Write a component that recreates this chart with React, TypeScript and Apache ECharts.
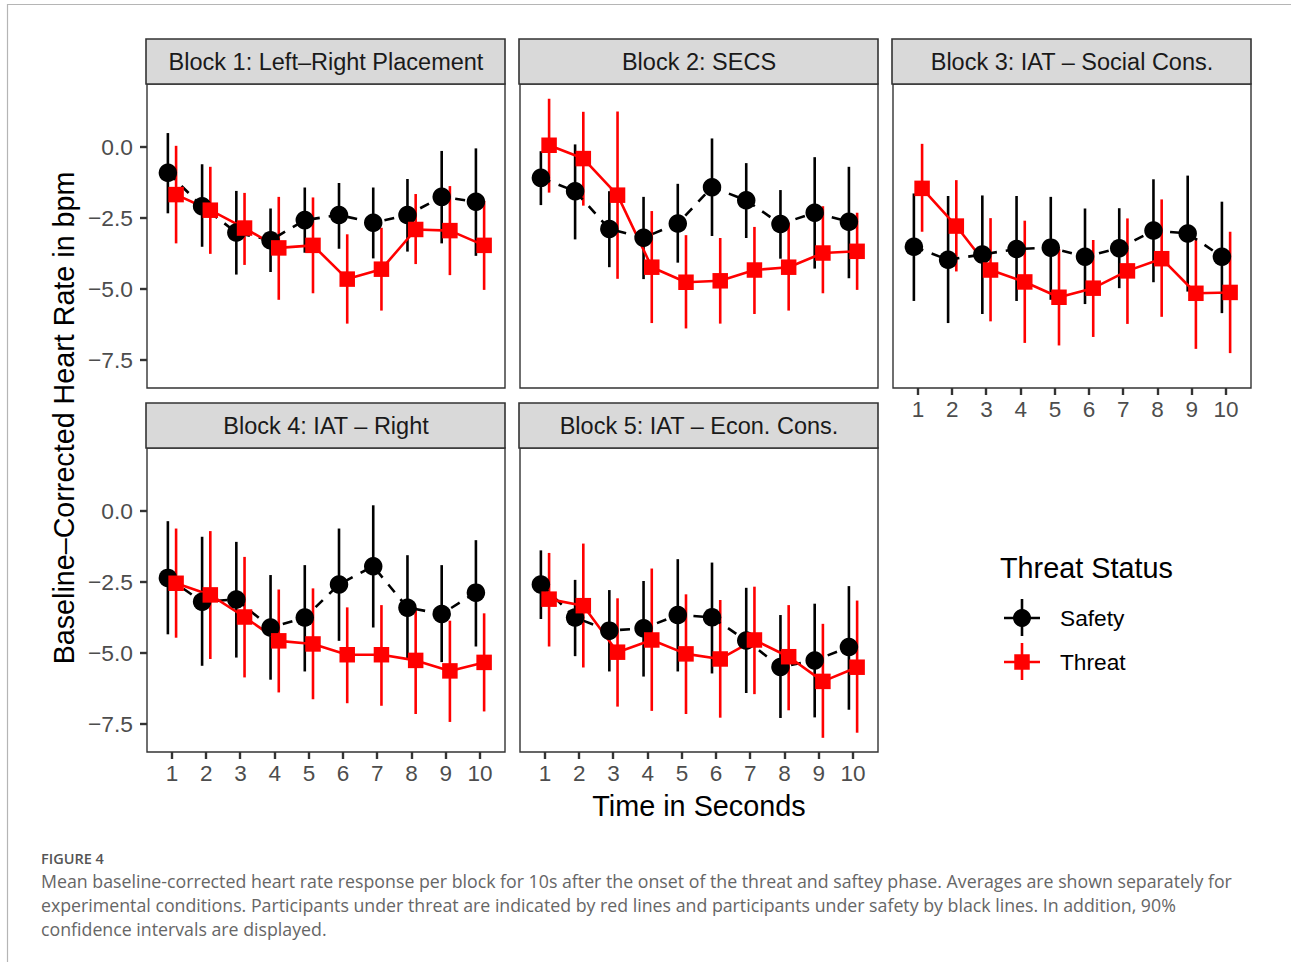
import React, { useEffect, useRef } from "react";
import * as echarts from "echarts";

const seconds = [1, 2, 3, 4, 5, 6, 7, 8, 9, 10];
const blockTitles = [
  "Block 1: Left–Right Placement",
  "Block 2: SECS",
  "Block 3: IAT – Social Cons.",
  "Block 4: IAT – Right",
  "Block 5: IAT – Econ. Cons.",
];
const yTicks = [0, -2.5, -5, -7.5];
const groups = ["Safety", "Threat"];

// Block 1
const b1SafetyMean = [-0.91, -2.09, -3.02, -3.29, -2.58, -2.4, -2.67, -2.4, -1.76, -1.93];
const b1SafetyLo = [-2.34, -3.52, -4.5, -4.41, -3.73, -3.59, -3.93, -3.69, -3.4, -3.84];
const b1SafetyHi = [0.49, -0.61, -1.55, -2.17, -1.43, -1.27, -1.43, -1.13, -0.14, -0.05];
const b1ThreatMean = [-1.68, -2.23, -2.86, -3.56, -3.47, -4.66, -4.31, -2.91, -2.95, -3.47];
const b1ThreatLo = [-3.4, -3.77, -4.16, -5.39, -5.16, -6.23, -5.77, -4.13, -4.52, -5.04];
const b1ThreatHi = [0.04, -0.7, -1.62, -1.76, -1.78, -3.08, -2.85, -1.66, -1.38, -1.9];

// Block 2
const b2SafetyMean = [-1.09, -1.56, -2.89, -3.2, -2.7, -1.42, -1.88, -2.72, -2.32, -2.64];
const b2SafetyLo = [-2.05, -3.26, -4.24, -4.66, -4.08, -3.14, -3.21, -3.94, -4.29, -4.63];
const b2SafetyHi = [-0.15, 0.09, -1.56, -1.76, -1.3, 0.3, -0.57, -1.52, -0.36, -0.7];
const b2ThreatMean = [0.06, -0.41, -1.7, -4.24, -4.77, -4.72, -4.34, -4.24, -3.74, -3.68];
const b2ThreatLo = [-1.61, -2.07, -4.65, -6.21, -6.4, -6.23, -5.89, -5.77, -5.16, -5.04];
const b2ThreatHi = [1.7, 1.24, 1.25, -2.26, -3.11, -3.21, -2.82, -2.67, -2.09, -2.32];

// Block 3
const b3SafetyMean = [-3.52, -3.98, -3.79, -3.6, -3.55, -3.87, -3.57, -2.95, -3.05, -3.87];
const b3SafetyLo = [-5.43, -6.21, -5.89, -5.43, -5.39, -5.54, -4.98, -4.77, -5.1, -5.86];
const b3SafetyHi = [-1.64, -1.73, -1.71, -1.73, -1.76, -2.17, -2.16, -1.14, -1.01, -1.93];
const b3ThreatMean = [-1.46, -2.79, -4.34, -4.76, -5.3, -4.98, -4.37, -3.94, -5.16, -5.13];
const b3ThreatLo = [-2.99, -4.39, -6.15, -6.91, -7.0, -6.7, -6.24, -5.99, -7.12, -7.27];
const b3ThreatHi = [0.11, -1.17, -2.51, -2.6, -3.6, -3.28, -2.52, -1.85, -3.22, -2.99];

// Block 4
const b4SafetyMean = [-2.36, -3.2, -3.12, -4.11, -3.76, -2.59, -1.95, -3.41, -3.63, -2.88];
const b4SafetyLo = [-4.35, -5.46, -5.17, -5.95, -5.66, -4.58, -4.11, -5.22, -5.33, -4.78];
const b4SafetyHi = [-0.36, -0.91, -1.09, -2.26, -1.91, -0.62, 0.2, -1.56, -1.91, -1.03];
const b4ThreatMean = [-2.55, -2.96, -3.74, -4.58, -4.69, -5.07, -5.07, -5.27, -5.64, -5.34];
const b4ThreatLo = [-4.47, -5.22, -5.87, -6.4, -6.64, -6.78, -6.87, -7.16, -7.44, -7.07];
const b4ThreatHi = [-0.62, -0.71, -1.62, -2.77, -2.73, -3.4, -3.32, -3.41, -3.87, -3.61];

// Block 5
const b5SafetyMean = [-2.59, -3.76, -4.22, -4.14, -3.67, -3.75, -4.57, -5.5, -5.27, -4.8];
const b5SafetyLo = [-3.81, -5.12, -5.66, -5.84, -5.66, -5.73, -6.42, -7.3, -7.28, -7.01];
const b5SafetyHi = [-1.39, -2.43, -2.79, -2.47, -1.7, -1.82, -2.71, -3.67, -3.27, -2.65];
const b5ThreatMean = [-3.11, -3.34, -4.98, -4.55, -5.04, -5.22, -4.55, -5.14, -6.01, -5.51];
const b5ThreatLo = [-4.78, -5.52, -6.9, -7.05, -7.16, -7.29, -6.46, -7.03, -8.0, -7.82];
const b5ThreatHi = [-1.48, -1.15, -3.08, -2.03, -2.94, -3.14, -2.67, -3.32, -3.98, -3.16];

const captionTitle = "FIGURE 4";
const captionLines = [
  "Mean baseline-corrected heart rate response per block for 10s after the onset of the threat and saftey phase. Averages are shown separately for",
  "experimental conditions. Participants under threat are indicated by red lines and participants under safety by black lines. In addition, 90%",
  "confidence intervals are displayed.",
];

const blocks = [
  { s: [b1SafetyMean, b1SafetyLo, b1SafetyHi], t: [b1ThreatMean, b1ThreatLo, b1ThreatHi] },
  { s: [b2SafetyMean, b2SafetyLo, b2SafetyHi], t: [b2ThreatMean, b2ThreatLo, b2ThreatHi] },
  { s: [b3SafetyMean, b3SafetyLo, b3SafetyHi], t: [b3ThreatMean, b3ThreatLo, b3ThreatHi] },
  { s: [b4SafetyMean, b4SafetyLo, b4SafetyHi], t: [b4ThreatMean, b4ThreatLo, b4ThreatHi] },
  { s: [b5SafetyMean, b5SafetyLo, b5SafetyHi], t: [b5ThreatMean, b5ThreatLo, b5ThreatHi] },
];

const FONT = "'Liberation Sans', Arial, Helvetica, sans-serif";
const CAPFONT = "'Open Sans', sans-serif";
const PW = 358;
const PH = 304;
const XMIN = 0.27;
const XMAX = 10.73;
const YMIN = -8.5;
const YMAX = 2.22;
const panels = [
  { left: 147, top: 84, yl: true, xl: false },
  { left: 520, top: 84, yl: false, xl: false },
  { left: 893, top: 84, yl: false, xl: true },
  { left: 147, top: 448, yl: true, xl: true },
  { left: 520, top: 448, yl: false, xl: true },
];
const DODGE = 0.12;
const RED = "#ff0000";
const BLACK = "#000000";
const AX = "#333333";

function fmtY(v: number) {
  if (Math.abs(v) < 1e-9) return "0.0";
  return (v < 0 ? "\u2212" : "") + Math.abs(v).toFixed(1);
}

export default function App() {
  const ref = useRef<HTMLDivElement>(null);
  useEffect(() => {
    if (!ref.current) return;
    const chart = echarts.init(ref.current, undefined, { renderer: "svg" });

    const grid: any[] = [];
    const xAxis: any[] = [];
    const yAxis: any[] = [];
    const series: any[] = [];
    const graphic: any[] = [];

    const errRender = (color: string) => (params: any, api: any) => {
      const x = api.value(0);
      const p1 = api.coord([x, api.value(1)]);
      const p2 = api.coord([x, api.value(2)]);
      return {
        type: "line",
        shape: { x1: p1[0], y1: p1[1], x2: p2[0], y2: p2[1] },
        style: { stroke: color, lineWidth: 2.6 },
      };
    };

    panels.forEach((p, i) => {
      grid.push({
        left: p.left,
        top: p.top,
        width: PW,
        height: PH,
        show: true,
        borderColor: AX,
        borderWidth: 1.4,
        backgroundColor: "#ffffff",
        containLabel: false,
      });
      xAxis.push({
        type: "value",
        gridIndex: i,
        position: "bottom",
        min: XMIN,
        max: XMAX,
        splitLine: { show: false },
        axisLine: { show: false, onZero: false },
        axisTick: { show: false },
        axisLabel: {
          show: p.xl,
          customValues: seconds,
          fontSize: 22.5,
          color: "#4d4d4d",
          fontFamily: FONT,
          margin: 10,
        },
      });
      yAxis.push({
        type: "value",
        gridIndex: i,
        position: "left",
        min: YMIN,
        max: YMAX,
        splitLine: { show: false },
        axisLine: { show: false, onZero: false },
        axisTick: { show: false },
        axisLabel: {
          show: p.yl,
          customValues: yTicks,
          fontSize: 22.8,
          color: "#4d4d4d",
          fontFamily: FONT,
          margin: 14,
          formatter: (v: number) => fmtY(v),
        },
      });

      const b = blocks[i];
      const sData = seconds.map((x, k) => [x - DODGE, b.s[0][k], b.s[1][k], b.s[2][k]]);
      const tData = seconds.map((x, k) => [x + DODGE, b.t[0][k], b.t[1][k], b.t[2][k]]);

      series.push({
        type: "custom",
        xAxisIndex: i,
        yAxisIndex: i,
        renderItem: errRender(BLACK),
        data: sData.map((d) => [d[0], d[2], d[3]]),
        encode: { x: 0, y: [1, 2] },
        z: 2,
        silent: true,
      });
      series.push({
        type: "custom",
        xAxisIndex: i,
        yAxisIndex: i,
        renderItem: errRender(RED),
        data: tData.map((d) => [d[0], d[2], d[3]]),
        encode: { x: 0, y: [1, 2] },
        z: 2,
        silent: true,
      });
      series.push({
        type: "line",
        xAxisIndex: i,
        yAxisIndex: i,
        data: sData.map((d) => [d[0], d[1]]),
        symbol: "none",
        lineStyle: { color: BLACK, width: 2.6, type: [10, 9] },
        z: 3,
        silent: true,
      });
      series.push({
        type: "line",
        xAxisIndex: i,
        yAxisIndex: i,
        data: tData.map((d) => [d[0], d[1]]),
        symbol: "none",
        lineStyle: { color: RED, width: 2.6 },
        z: 3,
        silent: true,
      });
      series.push({
        type: "scatter",
        xAxisIndex: i,
        yAxisIndex: i,
        data: sData.map((d) => [d[0], d[1]]),
        symbol: "circle",
        symbolSize: 18.5,
        itemStyle: { color: BLACK, opacity: 1 },
        z: 4,
        silent: true,
      });
      series.push({
        type: "scatter",
        xAxisIndex: i,
        yAxisIndex: i,
        data: tData.map((d) => [d[0], d[1]]),
        symbol: "rect",
        symbolSize: 15.5,
        itemStyle: { color: RED, opacity: 1 },
        z: 4,
        silent: true,
      });

      // strip
      graphic.push({
        type: "rect",
        shape: { x: p.left - 1, y: p.top - 45, width: PW + 1, height: 45 },
        style: { fill: "#d9d9d9", stroke: AX, lineWidth: 1.6 },
        z: 10,
      });
      graphic.push({
        type: "text",
        x: p.left + PW / 2,
        y: p.top - 22,
        style: {
          text: blockTitles[i],
          fontSize: 23.5,
          fontFamily: FONT,
          fill: "#1a1a1a",
          align: "center",
          verticalAlign: "middle",
        },
        z: 11,
      });

      // axis ticks, spaced by the same linear scale as the grid's axes
      const xScale = (v: number) => p.left + ((v - XMIN) / (XMAX - XMIN)) * PW;
      const yScale = (v: number) => p.top + ((YMAX - v) / (YMAX - YMIN)) * PH;
      if (p.xl) {
        seconds.forEach((x) => {
          graphic.push({
            type: "rect",
            z: 50,
            shape: { x: Math.round(xScale(x)) - 1.2, y: p.top + PH, width: 2.4, height: 7 },
            style: { fill: AX },
          });
        });
      }
      if (p.yl) {
        yTicks.forEach((v) => {
          graphic.push({
            type: "rect",
            z: 50,
            shape: { x: p.left - 7, y: Math.round(yScale(v)) - 1.2, width: 7, height: 2.4 },
            style: { fill: AX },
          });
        });
      }
    });

    // page frame
    graphic.push({
      type: "line",
      shape: { x1: 7, y1: 4.5, x2: 1291, y2: 4.5 },
      style: { stroke: "#b5b5b5", lineWidth: 1.2 },
    });
    graphic.push({
      type: "line",
      shape: { x1: 7.5, y1: 4, x2: 7.5, y2: 962 },
      style: { stroke: "#b5b5b5", lineWidth: 1.2 },
    });

    // axis titles
    graphic.push({
      type: "text",
      x: 64,
      y: 418,
      rotation: Math.PI / 2,
      style: {
        text: "Baseline\u2013Corrected Heart Rate in bpm",
        fontSize: 28.7,
        fontFamily: FONT,
        fill: "#000000",
        align: "center",
        verticalAlign: "middle",
      },
    });
    graphic.push({
      type: "text",
      x: 699,
      y: 806,
      style: {
        text: "Time in Seconds",
        fontSize: 28.8,
        fontFamily: FONT,
        fill: "#000000",
        align: "center",
        verticalAlign: "middle",
      },
    });

    // legend
    graphic.push({
      type: "text",
      x: 1000,
      y: 568,
      style: {
        text: "Threat Status",
        fontSize: 28.8,
        fontFamily: FONT,
        fill: "#000000",
        align: "left",
        verticalAlign: "middle",
      },
    });
    const legendItems = [
      { name: groups[0], color: BLACK, y: 618, sym: "circle" },
      { name: groups[1], color: RED, y: 662, sym: "rect" },
    ];
    legendItems.forEach((it) => {
      graphic.push({
        type: "line",
        shape: { x1: 1004, y1: it.y, x2: 1040, y2: it.y },
        style: { stroke: it.color, lineWidth: 2.6 },
      });
      graphic.push({
        type: "line",
        shape: { x1: 1022, y1: it.y - 19, x2: 1022, y2: it.y + 18 },
        style: { stroke: it.color, lineWidth: 2.6 },
      });
      if (it.sym === "circle") {
        graphic.push({
          type: "circle",
          shape: { cx: 1022, cy: it.y, r: 9 },
          style: { fill: it.color },
        });
      } else {
        graphic.push({
          type: "rect",
          shape: { x: 1022 - 7.75, y: it.y - 7.75, width: 15.5, height: 15.5 },
          style: { fill: it.color },
        });
      }
      graphic.push({
        type: "text",
        x: 1060,
        y: it.y,
        style: {
          text: it.name,
          fontSize: 22.7,
          fontFamily: FONT,
          fill: "#000000",
          align: "left",
          verticalAlign: "middle",
        },
      });
    });

    // caption
    graphic.push({
      type: "text",
      x: 41,
      y: 858,
      style: {
        text: captionTitle,
        fontSize: 14.5,
        fontFamily: CAPFONT,
        fontWeight: 600,
        fill: "#555555",
        align: "left",
        verticalAlign: "middle",
      },
    });
    captionLines.forEach((line, k) => {
      graphic.push({
        type: "text",
        x: 41,
        y: 881 + k * 24,
        style: {
          text: line,
          fontSize: 17.75,
          fontFamily: CAPFONT,
          fill: "#666666",
          align: "left",
          verticalAlign: "middle",
        },
      });
    });

    chart.setOption({
      animation: false,
      backgroundColor: "#ffffff",
      grid,
      xAxis,
      yAxis,
      series,
      graphic,
    });

    return () => chart.dispose();
  }, []);

  return (
    <div
      ref={ref}
      style={{ position: "fixed", left: 0, top: 0, width: 1291, height: 962 }}
    />
  );
}
